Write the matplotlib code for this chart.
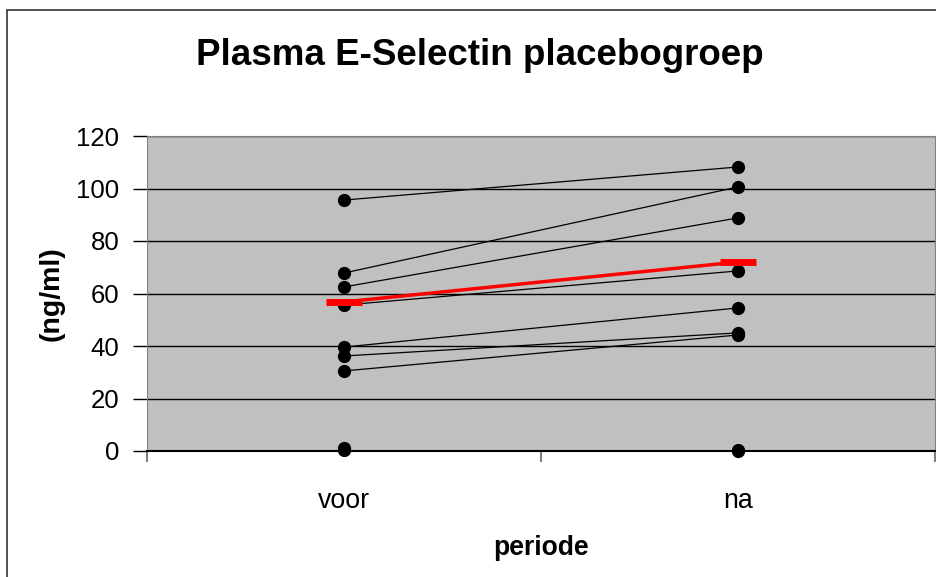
import matplotlib
matplotlib.use("Agg")
import matplotlib.pyplot as plt
from matplotlib.patches import Rectangle

categories = ["voor", "na"]
voor = [95.6, 67.8, 62.5, 55.6, 39.6, 36.2, 30.5]
na = [108.2, 100.6, 88.8, 68.6, 54.5, 45.0, 44.2]
voor_zero = [1.0, 0.2]
na_zero = [0.2, 0.0]
mean_vals = [56.8, 72.0]
yticks = [0, 20, 40, 60, 80, 100, 120]

plt.rcParams['font.family'] = ['Liberation Sans', 'DejaVu Sans']

fig = plt.figure(figsize=(9.37, 5.77), dpi=100)
fig.patch.set_facecolor('white')
fig.add_artist(Rectangle((7/937, -0.01), 1.0, 1 - 10/577 + 0.01, transform=fig.transFigure,
                         fill=False, edgecolor='#333333', linewidth=1.2))

ax = fig.add_axes([147/937, 1 - 451/577, 788/937, (451 - 136)/577])
ax.set_facecolor('#c0c0c0')

xpos = [0.5, 1.5]
for v, n in zip(voor, na):
    ax.plot(xpos, [v, n], color='black', linewidth=0.9, marker='o', markersize=8.5, zorder=3)
ax.plot([xpos[0]] * len(voor_zero), voor_zero, 'o', color='black', markersize=8.5, zorder=3, clip_on=False)
ax.plot([xpos[1]] * len(na_zero), na_zero, 'o', color='black', markersize=8.5, zorder=3, clip_on=False)
ax.plot(xpos, mean_vals, color='#ff0000', linewidth=2.5, marker='_', markersize=26,
        markeredgewidth=5, zorder=4)

ax.set_xlim(0, 2)
ax.set_ylim(0, 120)
ax.set_yticks(yticks)
ax.set_yticklabels([str(t) for t in yticks], fontsize=18.5)
ax.set_xticks([0, 1, 2])
ax.set_xticklabels([])
ax.set_xticks(xpos, minor=True)
ax.set_xticklabels(categories, minor=True, fontsize=19.3)
ax.tick_params(axis='x', which='minor', length=0, pad=27)
ax.tick_params(axis='x', which='major', length=8, color='#808080', width=1.5)
ax.tick_params(axis='y', length=10, color='black', width=1, pad=10)
ax.yaxis.grid(True, color='black', linewidth=1)
ax.set_axisbelow(True)

for s in ['top', 'right']:
    ax.spines[s].set_color('#808080')
ax.spines['left'].set_color('#808080')
ax.spines['bottom'].set_color('black')
ax.spines['bottom'].set_linewidth(1.5)

ax.set_ylabel('(ng/ml)', fontsize=20.5, fontweight='bold', labelpad=8)
ax.set_xlabel('periode', fontsize=19.1, fontweight='bold', labelpad=15)
fig.text(0.512, 1 - 65/577, 'Plasma E-Selectin placebogroep', ha='center', va='baseline',
         fontsize=26.5, fontweight='bold')

fig.savefig('out.png', dpi=100)
